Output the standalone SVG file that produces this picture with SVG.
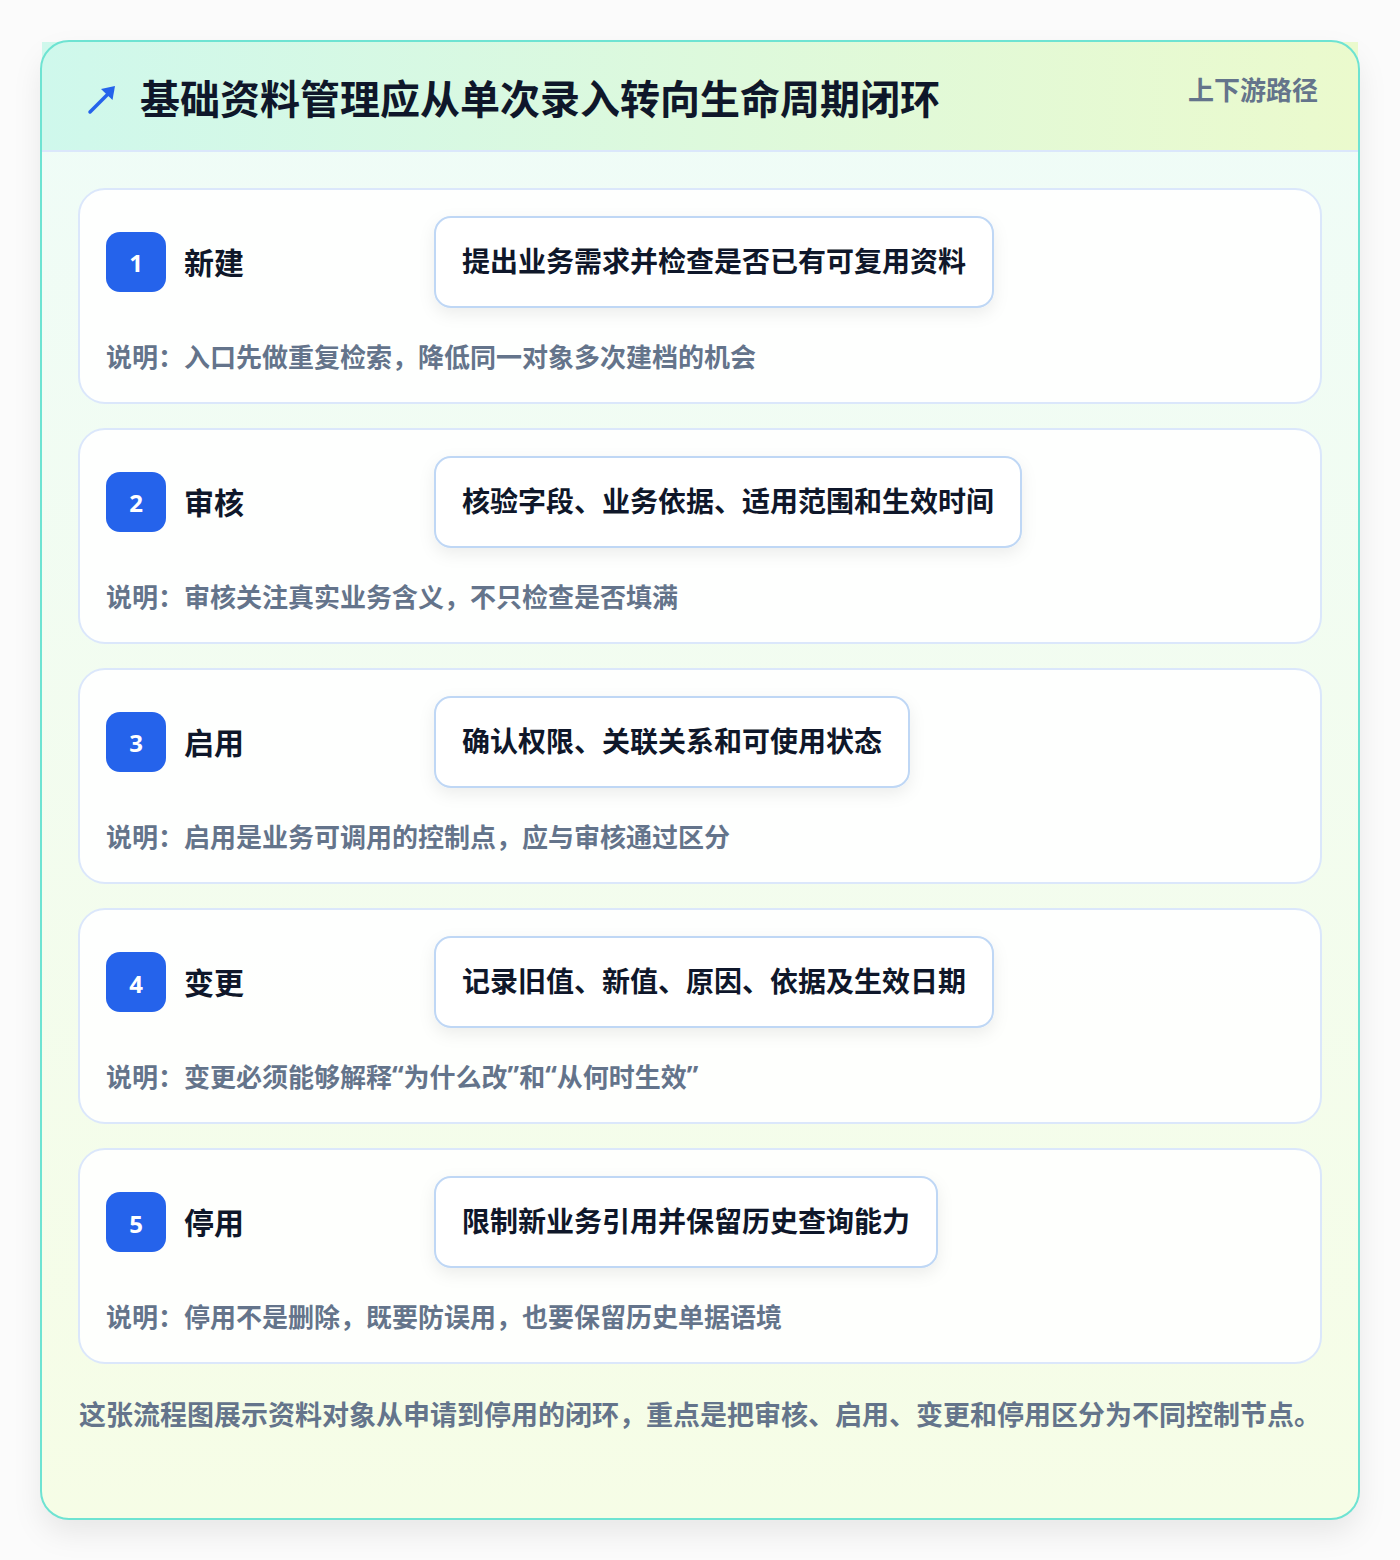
<svg xmlns="http://www.w3.org/2000/svg" width="1400" height="1560" viewBox="0 0 1400 1560">
  <defs>
    <linearGradient id="bodyGrad" x1="0" y1="0" x2="0" y2="1">
      <stop offset="0" stop-color="#effcf8"/>
      <stop offset="1" stop-color="#f6fde6"/>
    </linearGradient>
    <linearGradient id="headGrad" x1="0" y1="0" x2="1" y2="0">
      <stop offset="0" stop-color="#cff8ec"/>
      <stop offset="1" stop-color="#ebfacd"/>
    </linearGradient>
    <filter id="outerShadow" x="-10%" y="-10%" width="120%" height="120%">
      <feDropShadow dx="0" dy="14" stdDeviation="14" flood-color="#000000" flood-opacity="0.08"/>
    </filter>
    <filter id="boxShadow" x="-10%" y="-30%" width="120%" height="160%">
      <feDropShadow dx="0" dy="6" stdDeviation="8" flood-color="#0f172a" flood-opacity="0.07"/>
    </filter>
    <style>
      .t { font-family: "Noto Sans CJK SC", "Noto Sans", sans-serif; font-weight: 700; dominant-baseline: central; }
      .q { font-family: "Noto Sans", "DejaVu Sans", sans-serif; }
      .title { font-size: 40px; fill: #0f172a; }
      .tag { font-size: 26px; fill: #64748b; }
      .card { fill: #ffffff; fill-opacity: 0.9; stroke: #dbe7fb; stroke-width: 2; }
      .badge { fill: #2563eb; }
      .num { font-family: "Noto Sans", "DejaVu Sans", sans-serif; font-weight: 700; font-size: 24px; fill: #ffffff; text-anchor: middle; dominant-baseline: central; }
      .label { font-size: 30px; fill: #0f172a; }
      .box { fill: #ffffff; stroke: #bfd7f5; stroke-width: 2; filter: url(#boxShadow); }
      .boxtext { font-size: 28px; fill: #0f172a; }
      .desc { font-size: 26px; fill: #64748b; }
      .foot { font-size: 27px; fill: #64748b; }
    </style>
  </defs>
  <rect x="0" y="0" width="1400" height="1560" fill="#fbfbfb"/>
  <g id="frame">
    <rect x="41" y="41" width="1318" height="1478" rx="28" fill="url(#bodyGrad)" filter="url(#outerShadow)"/>
    <rect x="42" y="42" width="1316" height="109" fill="url(#headGrad)"/>
    <line x1="42" y1="151" x2="1358" y2="151" stroke="#dbe7fb" stroke-width="2"/>
    <rect x="41" y="41" width="1318" height="1478" rx="28" fill="none" stroke="#6ee3d2" stroke-width="2"/>
  </g>
  <g id="header">
    <path d="M90 112 L110 92" stroke="#2563eb" stroke-width="3.5" stroke-linecap="round" fill="none"/>
    <polygon points="115,86 112.5,100 101,89" fill="#2563eb"/>
    <text class="t title" x="140" y="97">基础资料管理应从单次录入转向生命周期闭环</text>
    <text class="t tag" x="1318" y="88" text-anchor="end">上下游路径</text>
  </g>
  <g id="connectors"></g>
  <g id="stage1" transform="translate(0,189)">
    <rect class="card" x="79" y="0" width="1242" height="214" rx="26"/>
    <rect class="badge" x="106" y="43" width="60" height="60" rx="14"/>
    <text class="num" x="136" y="73">1</text>
    <text class="t label" x="184" y="72">新建</text>
    <rect class="box" x="435" y="28" width="558" height="90" rx="16"/>
    <text class="t boxtext" x="462" y="71">提出业务需求并检查是否已有可复用资料</text>
    <text class="t desc" x="106" y="166">说明：入口先做重复检索，降低同一对象多次建档的机会</text>
  </g>
  <g id="stage2" transform="translate(0,429)">
    <rect class="card" x="79" y="0" width="1242" height="214" rx="26"/>
    <rect class="badge" x="106" y="43" width="60" height="60" rx="14"/>
    <text class="num" x="136" y="73">2</text>
    <text class="t label" x="184" y="72">审核</text>
    <rect class="box" x="435" y="28" width="586" height="90" rx="16"/>
    <text class="t boxtext" x="462" y="71">核验字段、业务依据、适用范围和生效时间</text>
    <text class="t desc" x="106" y="166">说明：审核关注真实业务含义，不只检查是否填满</text>
  </g>
  <g id="stage3" transform="translate(0,669)">
    <rect class="card" x="79" y="0" width="1242" height="214" rx="26"/>
    <rect class="badge" x="106" y="43" width="60" height="60" rx="14"/>
    <text class="num" x="136" y="73">3</text>
    <text class="t label" x="184" y="72">启用</text>
    <rect class="box" x="435" y="28" width="474" height="90" rx="16"/>
    <text class="t boxtext" x="462" y="71">确认权限、关联关系和可使用状态</text>
    <text class="t desc" x="106" y="166">说明：启用是业务可调用的控制点，应与审核通过区分</text>
  </g>
  <g id="stage4" transform="translate(0,909)">
    <rect class="card" x="79" y="0" width="1242" height="214" rx="26"/>
    <rect class="badge" x="106" y="43" width="60" height="60" rx="14"/>
    <text class="num" x="136" y="74">4</text>
    <text class="t label" x="184" y="72">变更</text>
    <rect class="box" x="435" y="28" width="558" height="90" rx="16"/>
    <text class="t boxtext" x="462" y="71">记录旧值、新值、原因、依据及生效日期</text>
    <text class="t desc" x="106" y="166">说明：变更必须能够解释<tspan class="q">“</tspan>为什么改<tspan class="q">”</tspan>和<tspan class="q">“</tspan>从何时生效<tspan class="q">”</tspan></text>
  </g>
  <g id="stage5" transform="translate(0,1149)">
    <rect class="card" x="79" y="0" width="1242" height="214" rx="26"/>
    <rect class="badge" x="106" y="43" width="60" height="60" rx="14"/>
    <text class="num" x="136" y="74">5</text>
    <text class="t label" x="184" y="72">停用</text>
    <rect class="box" x="435" y="28" width="502" height="90" rx="16"/>
    <text class="t boxtext" x="462" y="71">限制新业务引用并保留历史查询能力</text>
    <text class="t desc" x="106" y="166">说明：停用不是删除，既要防误用，也要保留历史单据语境</text>
  </g>
  <g id="footer">
    <text class="t foot" x="79" y="1413">这张流程图展示资料对象从申请到停用的闭环，重点是把审核、启用、变更和停用区分为不同控制节点。</text>
  </g>
</svg>
